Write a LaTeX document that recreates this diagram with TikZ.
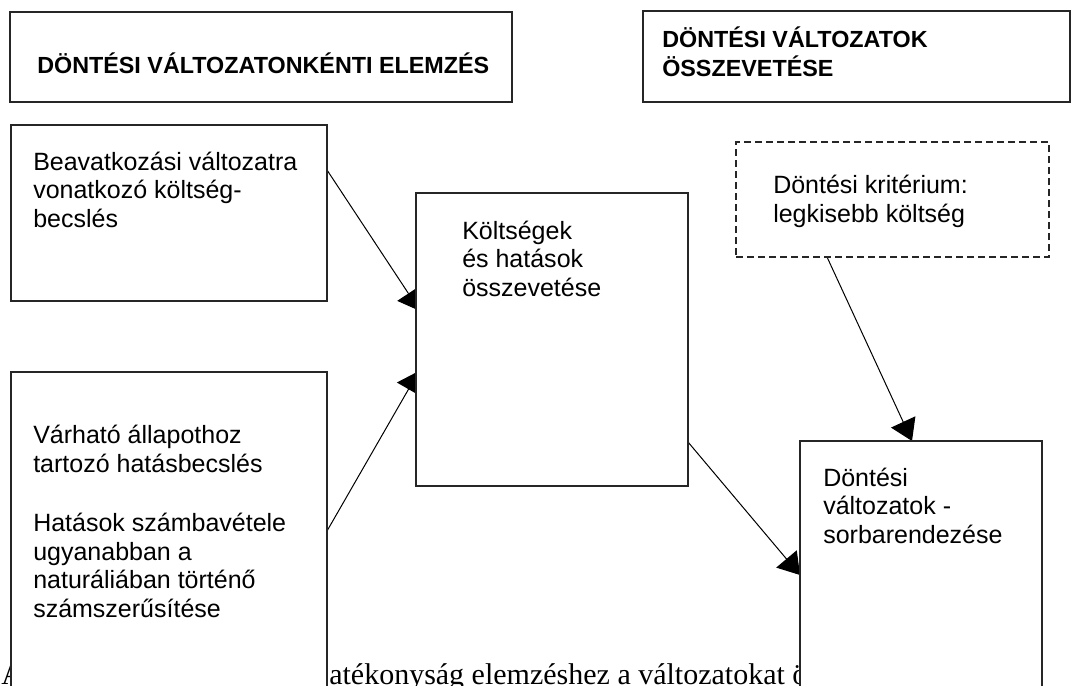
\documentclass[tikz,border=0pt]{standalone}
\usepackage{fontspec}
\setmainfont{Liberation Serif}
\newfontfamily\arialfont{Liberation Sans}
\usetikzlibrary{fit,arrows.meta,calc}
\pgfdeclarelayer{bg}
\pgfsetlayers{bg,main}
\begin{document}
\begin{tikzpicture}[x=0.75pt,y=-0.75pt,
  box/.style={draw=black!85, line width=0.9pt, fill=white, inner sep=0pt, outer sep=0pt},
  dbox/.style={box, dash pattern=on 5.25pt off 3pt},
  txt/.style={font=\arialfont\fontsize{18.75}{21.3}\selectfont, align=left, anchor=base west, inner sep=0pt},
  ttl/.style={font=\arialfont\bfseries\fontsize{17.5}{21}\selectfont, align=left, anchor=base west, inner sep=0pt},
  serif/.style={font=\fontsize{22.5}{26}\selectfont, anchor=base west, inner sep=0pt},
  conn/.style={line width=0.75pt, -{Triangle[length=15.75pt,width=20pt]}}]
\useasboundingbox (0,0) rectangle (1073,685);
% boxes
\node[box, fit={(10,12)(512,102)}] (T1) {};
\node[box, fit={(643,11)(1070,102)}] (T2) {};
\node[box, fit={(11,125)(327,301)}] (A) {};
\node[box, fit={(11,372)(327,720)}] (B) {};
\node[box, fit={(416,193)(688,486)}] (C) {};
\node[dbox, fit={(736,142)(1049,257)}] (K) {};
\node[box, fit={(800,441)(1042,720)}] (D) {};
% texts (anchor = baseline of the last line)
\node[ttl] (t1) at (37,74) {DÖNTÉSI VÁLTOZATONKÉNTI ELEMZÉS};
\node[ttl] (t2) at (662,76) {DÖNTÉSI VÁLTOZATOK\\ÖSSZEVETÉSE};
\node[txt] (a) at (33,227) {Beavatkozási változatra\\vonatkozó költség-\\becslés};
\node[txt] (b1) at (33,472) {Várható állapothoz\\tartozó hatásbecslés};
\node[txt] (b2) at (33,617) {Hatások számbavétele\\ugyanabban a\\naturáliában történő\\számszerűsítése};
\node[txt] (c) at (462,296) {Költségek\\és hatások\\összevetése};
\node[txt] (k) at (773,222) {Döntési kritérium:\\legkisebb költség};
\node[txt] (d) at (823,543) {Döntési\\változatok -\\sorbarendezése};
\begin{pgfonlayer}{bg}
\node[serif] (s1) at (1,684) {A};
\node[serif] (s2) at (329,684) {atékonyság elemzéshez a változatokat ö};
\draw[conn] ($(A.north east)+(0,45)$) -- ($(C.north west)+(4,118)$);
\draw[conn] ($(B.north east)+(0,159)$) -- ($(C.north west)+(3,178)$);
\draw[conn] ($(C.north east)+(0,249)$) -- ($(D.north west)+(0,134)$);
\draw[conn] ($(K.south west)+(91,0)$) -- ($(D.north west)+(112,0)$);
\end{pgfonlayer}
\end{tikzpicture}
\end{document}
